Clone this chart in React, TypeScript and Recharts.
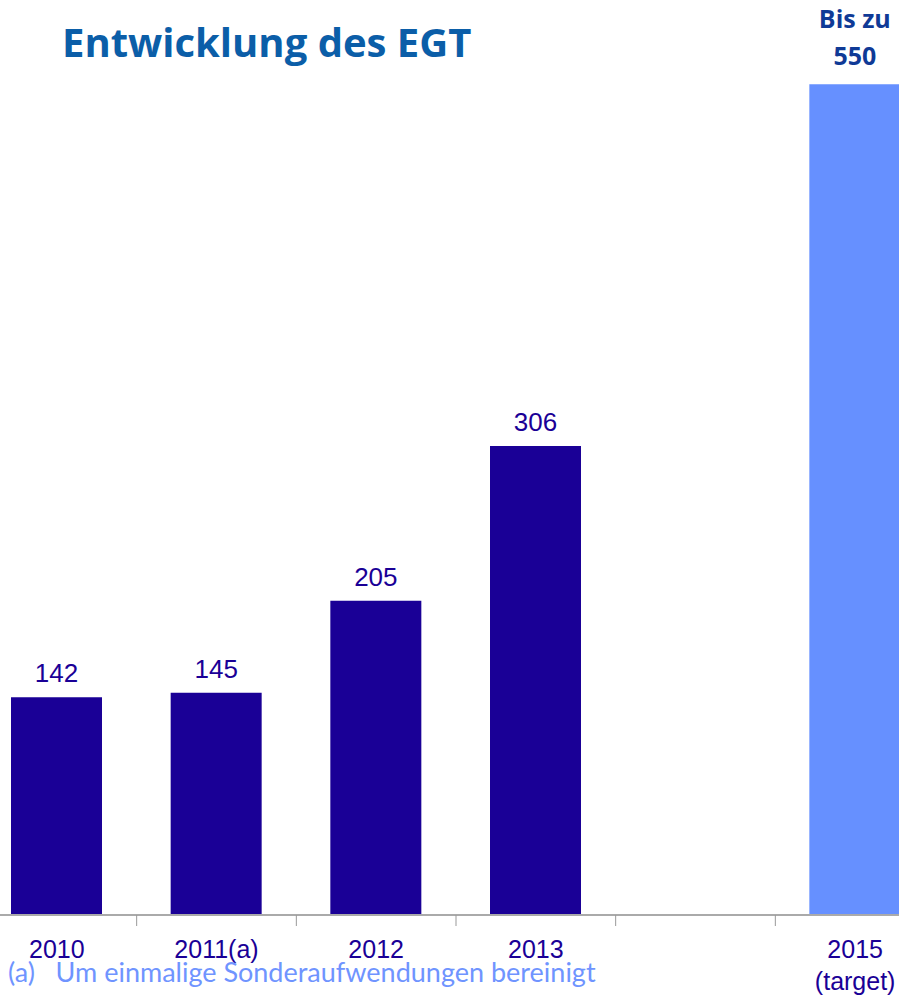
import React from 'react';
import { BarChart, Bar, XAxis, YAxis, LabelList, Cell } from 'recharts';

const CATEGORIES = ['2010', '2011(a)', '2012', '2013', '', '2015'];
const SUBLABELS = ['', '', '', '', '', '(target)'];
const VALUES: (number | null)[] = [142, 145, 205, 306, null, 542];
const VALUE_LABELS = ['142', '145', '205', '306', '', '550'];
const TARGET_PREFIX = 'Bis zu';
const IS_TARGET = [false, false, false, false, false, true];

const data = CATEGORIES.map((name, i) => ({
  name,
  sub: SUBLABELS[i],
  value: VALUES[i],
  label: VALUE_LABELS[i],
  target: IS_TARGET[i],
}));

const CHART_W = 958;
const CHART_H = 996;
const AXIS_H = 81;
const AXIS_Y = CHART_H - AXIS_H;
const BAND = CHART_W / CATEGORIES.length;
const DARK = '#1a0096';
const LIGHT = '#6690ff';
const FONT = '"Liberation Sans", Arial, sans-serif';

function AxisTick(props: any) {
  const { x, payload } = props;
  const i = CATEGORIES.indexOf(payload.value);
  const sub = SUBLABELS[i];
  const last = i === CATEGORIES.length - 1;
  return (
    <g>
      {!last && (
        <line x1={x + BAND / 2} x2={x + BAND / 2} y1={AXIS_Y} y2={AXIS_Y + 11} stroke="#999" strokeWidth={1} />
      )}
      <text x={x} y={AXIS_Y + 43} textAnchor="middle" fill={DARK} fontSize={25} fontFamily={FONT}>
        {payload.value}
      </text>
      {sub && (
        <text x={x} y={AXIS_Y + 75} textAnchor="middle" fill={DARK} fontSize={25} fontFamily={FONT}>
          {sub}
        </text>
      )}
    </g>
  );
}

function ValueLabel(props: any) {
  const { x, y, width, value } = props;
  const d = data.find((e) => e.label === String(value));
  if (!d || d.value == null || !d.label) return null;
  const cx = x + width / 2;
  if (d.target) {
    return (
      <g fontFamily='"Open Sans", sans-serif' fontWeight={700} fill="#0f3a96" fontSize={25} textAnchor="middle">
        <text x={cx} y={y - 56}>{TARGET_PREFIX}</text>
        <text x={cx} y={y - 19}>{d.label}</text>
      </g>
    );
  }
  return (
    <text x={cx} y={y - 15} textAnchor="middle" fill={DARK} fontSize={26} fontFamily={FONT}>
      {d.label}
    </text>
  );
}

export default function App() {
  return (
    <div style={{ position: 'absolute', left: 0, top: 0, width: 899, height: 996, overflow: 'hidden', background: '#fff' }}>
      <div style={{ position: 'absolute', left: -23, top: 0 }}>
        <BarChart width={CHART_W} height={CHART_H} data={data} margin={{ top: 72, right: 0, bottom: 0, left: 0 }}>
          <YAxis hide domain={[0, 550]} />
          <XAxis
            dataKey="name"
            height={AXIS_H}
            axisLine={{ stroke: '#aaa', strokeWidth: 2 }}
            tickLine={false}
            interval={0}
            tick={<AxisTick />}
          />
          <Bar dataKey="value" barSize={91} isAnimationActive={false}>
            {data.map((d, i) => (
              <Cell key={i} fill={d.target ? LIGHT : DARK} />
            ))}
            <LabelList dataKey="label" content={<ValueLabel />} />
          </Bar>
        </BarChart>
      </div>
      <div
        style={{
          position: 'absolute',
          left: 62,
          top: 18,
          fontFamily: '"Open Sans", sans-serif',
          fontWeight: 700,
          fontSize: 40,
          color: '#0b5ea8',
          whiteSpace: 'nowrap',
          lineHeight: 1.2,
        }}
      >
        Entwicklung des EGT
      </div>
      <div
        style={{
          position: 'absolute',
          left: 8,
          top: 956,
          fontFamily: 'Lato, sans-serif',
          fontSize: 27,
          color: '#6f94ff',
          whiteSpace: 'nowrap',
          lineHeight: 1.2,
        }}
      >
        (a)&nbsp;&nbsp; Um einmalige Sonderaufwendungen bereinigt
      </div>
    </div>
  );
}
